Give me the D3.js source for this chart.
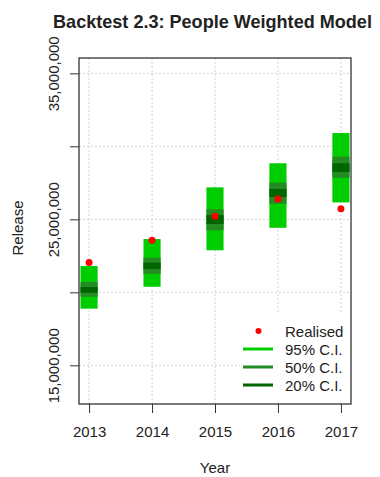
<!DOCTYPE html>
<html>
<head>
<meta charset="utf-8">
<script src="https://cdn.jsdelivr.net/npm/d3@7"></script>
<style>
	body { margin: 0; background: #fff; }
	text { font-family: "Liberation Sans", Arial, sans-serif; fill: #222; }
</style>
</head>
<body>
<script>
const years = [2013, 2014, 2015, 2016, 2017];
// interval bounds, in millions
const ci95Lo = [18.88, 20.38, 22.88, 24.42, 26.16];
const ci95Hi = [21.80, 23.65, 27.19, 28.84, 30.91];
const ci50Lo = [19.70, 21.27, 24.25, 26.07, 27.85];
const ci50Hi = [20.71, 22.37, 25.68, 27.51, 29.29];
const ci20Lo = [19.97, 21.60, 24.68, 26.53, 28.24];
const ci20Hi = [20.36, 22.03, 25.29, 27.08, 28.84];
const realised = [22.05, 23.56, 25.21, 26.39, 25.73];
const yTicks = [15e6, 20e6, 25e6, 30e6, 35e6];
const yLabelled = [15e6, 25e6, 35e6];
const legendLabels = ["Realised", "95% C.I.", "50% C.I.", "20% C.I."];

const width = 380,
	height = 477;

const svg = d3.select("body")
	.append("svg")
	.attr("width", width)
	.attr("height", height);

const x = d3.scaleLinear().domain([2012.84, 2017.16]).range([79, 351]);
const y = d3.scaleLinear().domain([12.35e6, 36.05e6]).range([404, 58]);

// grid
svg.append("g")
	.selectAll("line")
	.data(years)
	.join("line")
	.attr("x1", d => x(d)).attr("x2", d => x(d))
	.attr("y1", y.range()[1]).attr("y2", y.range()[0])
	.attr("stroke", "#d3d3d3")
	.attr("stroke-dasharray", "2,2");

svg.append("g")
	.selectAll("line")
	.data(yTicks)
	.join("line")
	.attr("x1", x.range()[0]).attr("x2", x.range()[1])
	.attr("y1", d => y(d)).attr("y2", d => y(d))
	.attr("stroke", "#d3d3d3")
	.attr("stroke-dasharray", "2,2");

const half = 0.136;
const bands = [
	{lo: ci95Lo, hi: ci95Hi, col: "#00cd00"},
	{lo: ci50Lo, hi: ci50Hi, col: "#228b22"},
	{lo: ci20Lo, hi: ci20Hi, col: "#006400"}
];

bands.forEach(b => {
	svg.append("g")
		.selectAll("rect")
		.data(years)
		.join("rect")
		.attr("x", d => x(d - half))
		.attr("width", d => x(d + half) - x(d - half))
		.attr("y", (d, i) => y(b.hi[i] * 1e6))
		.attr("height", (d, i) => y(b.lo[i] * 1e6) - y(b.hi[i] * 1e6))
		.attr("fill", b.col);
});

svg.append("g")
	.selectAll("circle")
	.data(years)
	.join("circle")
	.attr("cx", d => x(d))
	.attr("cy", (d, i) => y(realised[i] * 1e6))
	.attr("r", 3.5)
	.attr("fill", "#ff0000");

// legend
const lg = svg.append("g");
lg.append("rect")
	.attr("x", 240).attr("y", 312)
	.attr("width", 110).attr("height", 90)
	.attr("fill", "#fff");

legendLabels.forEach((t, i) => {
	const ly = 331 + i * 18;
	if (i === 0) {
		lg.append("circle").attr("cx", 258.5).attr("cy", ly).attr("r", 3).attr("fill", "#ff0000");
	} else {
		lg.append("line")
			.attr("x1", 243).attr("x2", 273)
			.attr("y1", ly).attr("y2", ly)
			.attr("stroke", bands[i - 1].col)
			.attr("stroke-width", 3);
	}
	lg.append("text")
		.attr("x", 285)
		.attr("y", ly + 5.5)
		.style("font-size", "15px")
		.text(t);
});

// box
svg.append("rect")
	.attr("x", x.range()[0]).attr("y", y.range()[1])
	.attr("width", x.range()[1] - x.range()[0])
	.attr("height", y.range()[0] - y.range()[1])
	.attr("fill", "none")
	.attr("stroke", "#222")
	.attr("stroke-width", 1.2);

// axes
const yAxis = d3.axisLeft(y)
	.tickValues(yTicks)
	.tickSize(9)
	.tickFormat(d => yLabelled.includes(d) ? d3.format(",")(d) : "");

const gy = svg.append("g")
	.attr("transform", "translate(" + x.range()[0] + ",0)")
	.call(yAxis);
gy.select(".domain").remove();
gy.selectAll("line").attr("stroke", "#333");
gy.selectAll("text")
	.attr("x", 0).attr("dy", 0)
	.attr("transform", "translate(-20,0) rotate(-90)")
	.attr("text-anchor", "middle")
	.style("font-size", "15px")
	.style("font-family", "Liberation Sans, Arial, sans-serif")
	.attr("fill", "#222");

const xAxis = d3.axisBottom(x)
	.tickValues(years)
	.tickSize(9)
	.tickFormat(d3.format("d"));

const gx = svg.append("g")
	.attr("transform", "translate(0," + y.range()[0] + ")")
	.call(xAxis);
gx.select(".domain").remove();
gx.selectAll("line").attr("stroke", "#333");
gx.selectAll("text")
	.attr("y", 0).attr("dy", 0)
	.attr("transform", "translate(0,33)")
	.style("font-size", "15px")
	.style("font-family", "Liberation Sans, Arial, sans-serif")
	.attr("fill", "#222");

// titles
svg.append("text")
	.attr("x", x(2015))
	.attr("y", 473)
	.attr("text-anchor", "middle")
	.style("font-size", "15px")
	.text("Year");

svg.append("text")
	.attr("transform", "translate(23,228) rotate(-90)")
	.attr("text-anchor", "middle")
	.style("font-size", "15px")
	.text("Release");

const title = svg.append("text")
	.attr("x", 212.5)
	.attr("y", 28)
	.attr("text-anchor", "middle")
	.style("font-size", "18px")
	.style("font-weight", "bold")
	.attr("fill", "#000")
	.text("Backtest 2.3: People Weighted Model");
const tw = title.node().getComputedTextLength();
title.style("font-size", (18 * 319 / tw) + "px");
</script>
</body>
</html>
